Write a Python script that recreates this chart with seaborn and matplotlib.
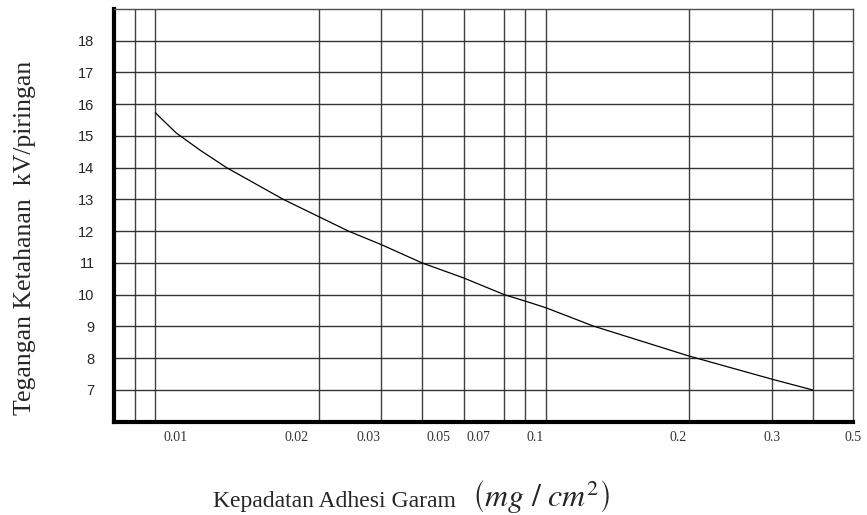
import numpy as np
import pandas as pd
import matplotlib
matplotlib.use("Agg")
import matplotlib.pyplot as plt
import seaborn as sns

# x axis labels (salt density, mg/cm2)
x_ticks = [0.01, 0.02, 0.03, 0.05, 0.07, 0.1, 0.2, 0.3, 0.5]
x_tick_labels = ["0.01", "0.02", "0.03", "0.05", "0.07", "0.1", "0.2", "0.3", "0.5"]

# the printed axis is not a clean log scale, so keep the spacing of the labels
x_anchor_vals = [0.007] + x_ticks
x_anchor_pos = [114, 176, 296, 368, 438, 478, 535, 678, 772, 853]

# vertical grid lines of the original sheet
grid_x = [0.00788, 0.00888, 0.01, 0.0228, 0.0330, 0.0445, 0.0619, 0.0825,
          0.0939, 0.1053, 0.2094, 0.2995, 0.3869]

y_ticks = list(range(7, 19))

# withstand voltage curve
density = [0.00888, 0.01, 0.0115, 0.0134, 0.0186, 0.0228, 0.0269, 0.0330,
           0.0445, 0.0619, 0.0825, 0.0939, 0.1053, 0.1327, 0.2094, 0.2995, 0.3869]
voltage = [15.73, 15.10, 14.55, 14.0, 13.0, 12.45, 12.0, 11.58,
           11.0, 10.53, 10.0, 9.80, 9.59, 9.01, 8.07, 7.34, 7.0]

df = pd.DataFrame({"density": density, "voltage": voltage})

sns.set_style("white")
plt.rcParams["font.family"] = ["Liberation Serif", "DejaVu Serif"]
plt.rcParams["mathtext.fontset"] = "stix"

log_anchor = np.log10(x_anchor_vals)


def fwd(x):
    x = np.clip(np.asarray(x, dtype=float), 1e-6, None)
    return np.interp(np.log10(x), log_anchor, x_anchor_pos)


def inv(p):
    return 10 ** np.interp(np.asarray(p, dtype=float), x_anchor_pos, log_anchor)


fig = plt.figure(figsize=(8.67, 5.15), dpi=100)
ax = fig.add_axes([114 / 867, 1 - 421.7 / 515, 739.3 / 867, 412.7 / 515])
ax.set_xscale("function", functions=(fwd, inv))

sns.lineplot(data=df, x="density", y="voltage", color="black", linewidth=0.9,
             sort=False, ax=ax)

ax.set_xlim(0.007, 0.5)
ax.set_ylim(6, 19)

ax.set_xticks(x_ticks)
ax.set_xticklabels(x_tick_labels)
ax.set_xticks(grid_x, minor=True)
ax.set_yticks(y_ticks)
ax.set_yticklabels([str(v) for v in y_ticks])

ax.grid(False)
ax.grid(True, which="minor", axis="x", color="0.25", linewidth=1.0)
ax.grid(True, which="major", axis="y", color="0.2", linewidth=1.0)
ax.set_axisbelow(True)

ax.tick_params(axis="both", which="both", length=0)
ax.tick_params(axis="x", pad=7, labelsize=10, colors="#333333")
ax.tick_params(axis="y", pad=14, labelsize=10.5)
for lab in ax.get_yticklabels():
    lab.set_family(["Liberation Sans", "DejaVu Sans"])

for side in ["left", "bottom"]:
    ax.spines[side].set_linewidth(3)
    ax.spines[side].set_color("black")
for side in ["top", "right"]:
    ax.spines[side].set_linewidth(1)
    ax.spines[side].set_color("0.3")

ax.set_ylabel("Tegangan Ketahanan  kV/piringan", fontsize=18.5)
ax.yaxis.set_label_coords(-0.106, 0.445)
ax.set_xlabel("")

ax.text(0.298, -0.2067, "Kepadatan Adhesi Garam", transform=ax.transAxes,
        ha="center", va="baseline", fontsize=17)
ax.text(0.578, -0.2067, r"$\left(mg\ /\ cm^{2}\right)$", transform=ax.transAxes,
        ha="center", va="baseline", fontsize=23)

fig.savefig("out.png", dpi=100)
